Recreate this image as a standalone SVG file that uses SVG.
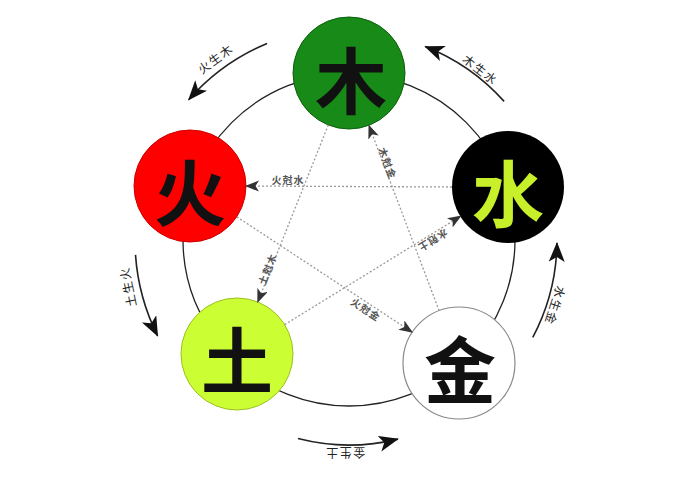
<svg xmlns="http://www.w3.org/2000/svg" width="675" height="500" viewBox="0 0 675 500">
<style>
.node-char{font-family:"Noto Sans CJK SC","Noto Sans CJK TC",sans-serif;font-weight:700;font-size:72px;text-anchor:middle;dominant-baseline:central}
.outer-label{font-family:"Noto Sans CJK SC","Noto Sans CJK TC",sans-serif;font-size:12px;fill:#222;text-anchor:middle;dominant-baseline:central;letter-spacing:1.5px}
.inner-label{font-family:"Noto Sans CJK SC","Noto Sans CJK TC",sans-serif;font-size:10px;font-weight:700;fill:#555;text-anchor:middle;dominant-baseline:central;letter-spacing:1px}
.ring{fill:none;stroke:#222;stroke-width:1.3}
.gen{fill:none;stroke:#222;stroke-width:1.6;marker-end:url(#bigArrow)}
.ctl{fill:none;stroke:#9a9a9a;stroke-width:1.3;stroke-dasharray:2 2;marker-end:url(#smallArrow)}
</style>
<defs>
<marker id="bigArrow" markerUnits="userSpaceOnUse" markerWidth="22" markerHeight="18" refX="19" refY="8" orient="auto">
<path d="M0,0 L20,8 L0,16 L5,8 z" fill="#111"/>
</marker>
<marker id="smallArrow" markerUnits="userSpaceOnUse" markerWidth="15" markerHeight="12" refX="13" refY="5.5" orient="auto">
<path d="M0,0 L14,5.5 L0,11 L3.5,5.5 z" fill="#333"/>
</marker>
</defs>
<rect width="675" height="500" fill="#fff"/>
<circle class="ring" cx="349" cy="240" r="166"/>
<g id="node-wood">
<circle cx="349" cy="73" r="56" fill="#178a17" stroke="#0d5f0d" stroke-width="1"/>
<text class="node-char" x="351" y="76" fill="#111">木</text>
</g>
<g id="node-fire">
<circle cx="190" cy="186" r="56" fill="#ff0000" stroke="#c00" stroke-width="1"/>
<text class="node-char" x="190" y="188" fill="#111">火</text>
</g>
<g id="node-water">
<circle cx="508" cy="187" r="56" fill="#000"/>
<text class="node-char" x="508" y="189" fill="#c8f02a">水</text>
</g>
<g id="node-earth">
<circle cx="237" cy="354" r="56" fill="#ccff33" stroke="#9cbf20" stroke-width="1"/>
<text class="node-char" x="237" y="356" fill="#111">土</text>
</g>
<g id="node-metal">
<circle cx="459" cy="363" r="56" fill="#fff" stroke="#888" stroke-width="1.2"/>
<text class="node-char" x="460" y="365" fill="#111">金</text>
</g>
<g id="connectors">
<path class="gen" d="M267.1,43.4 A213,213 0 0 0 188.7,99.7"/>
<path class="gen" d="M504.1,101.4 A208,208 0 0 0 425.2,46.5"/>
<path class="gen" d="M135.5,254.9 A214,214 0 0 0 157.6,335.8"/>
<path class="gen" d="M532.8,337.3 A208,208 0 0 0 557,242.9"/>
<path class="gen" d="M298,438.6 A205,205 0 0 0 397.9,439.1"/>
<path class="ctl" d="M452,187 L246,186"/>
<path class="ctl" d="M328.3,125 L257.7,302"/>
<path class="ctl" d="M439.1,310.6 L368.9,125.4"/>
<path class="ctl" d="M284.7,324.6 L460.8,216.1"/>
<path class="ctl" d="M236.8,216.8 L412.2,332.2"/>
</g>
<g id="labels">
<text class="outer-label" transform="translate(215,58) rotate(-36.4)">火生木</text>
<text class="outer-label" transform="translate(481,69) rotate(37.6)">木生水</text>
<text class="outer-label" transform="translate(127,287) rotate(-102)">土生火</text>
<text class="outer-label" transform="translate(556,306) rotate(108)">水生金</text>
<text class="outer-label" transform="translate(345,453) rotate(180)">金生土</text>
<text class="inner-label" transform="translate(288,179)">火尅水</text>
<text class="inner-label" transform="translate(388,163) rotate(69)">木尅金</text>
<text class="inner-label" transform="translate(433,241) rotate(148.4)">水尅土</text>
<text class="inner-label" transform="translate(267,269) rotate(-68.3)">土尅木</text>
<text class="inner-label" transform="translate(366,309) rotate(33.3)">火尅金</text>
</g>
</svg>
